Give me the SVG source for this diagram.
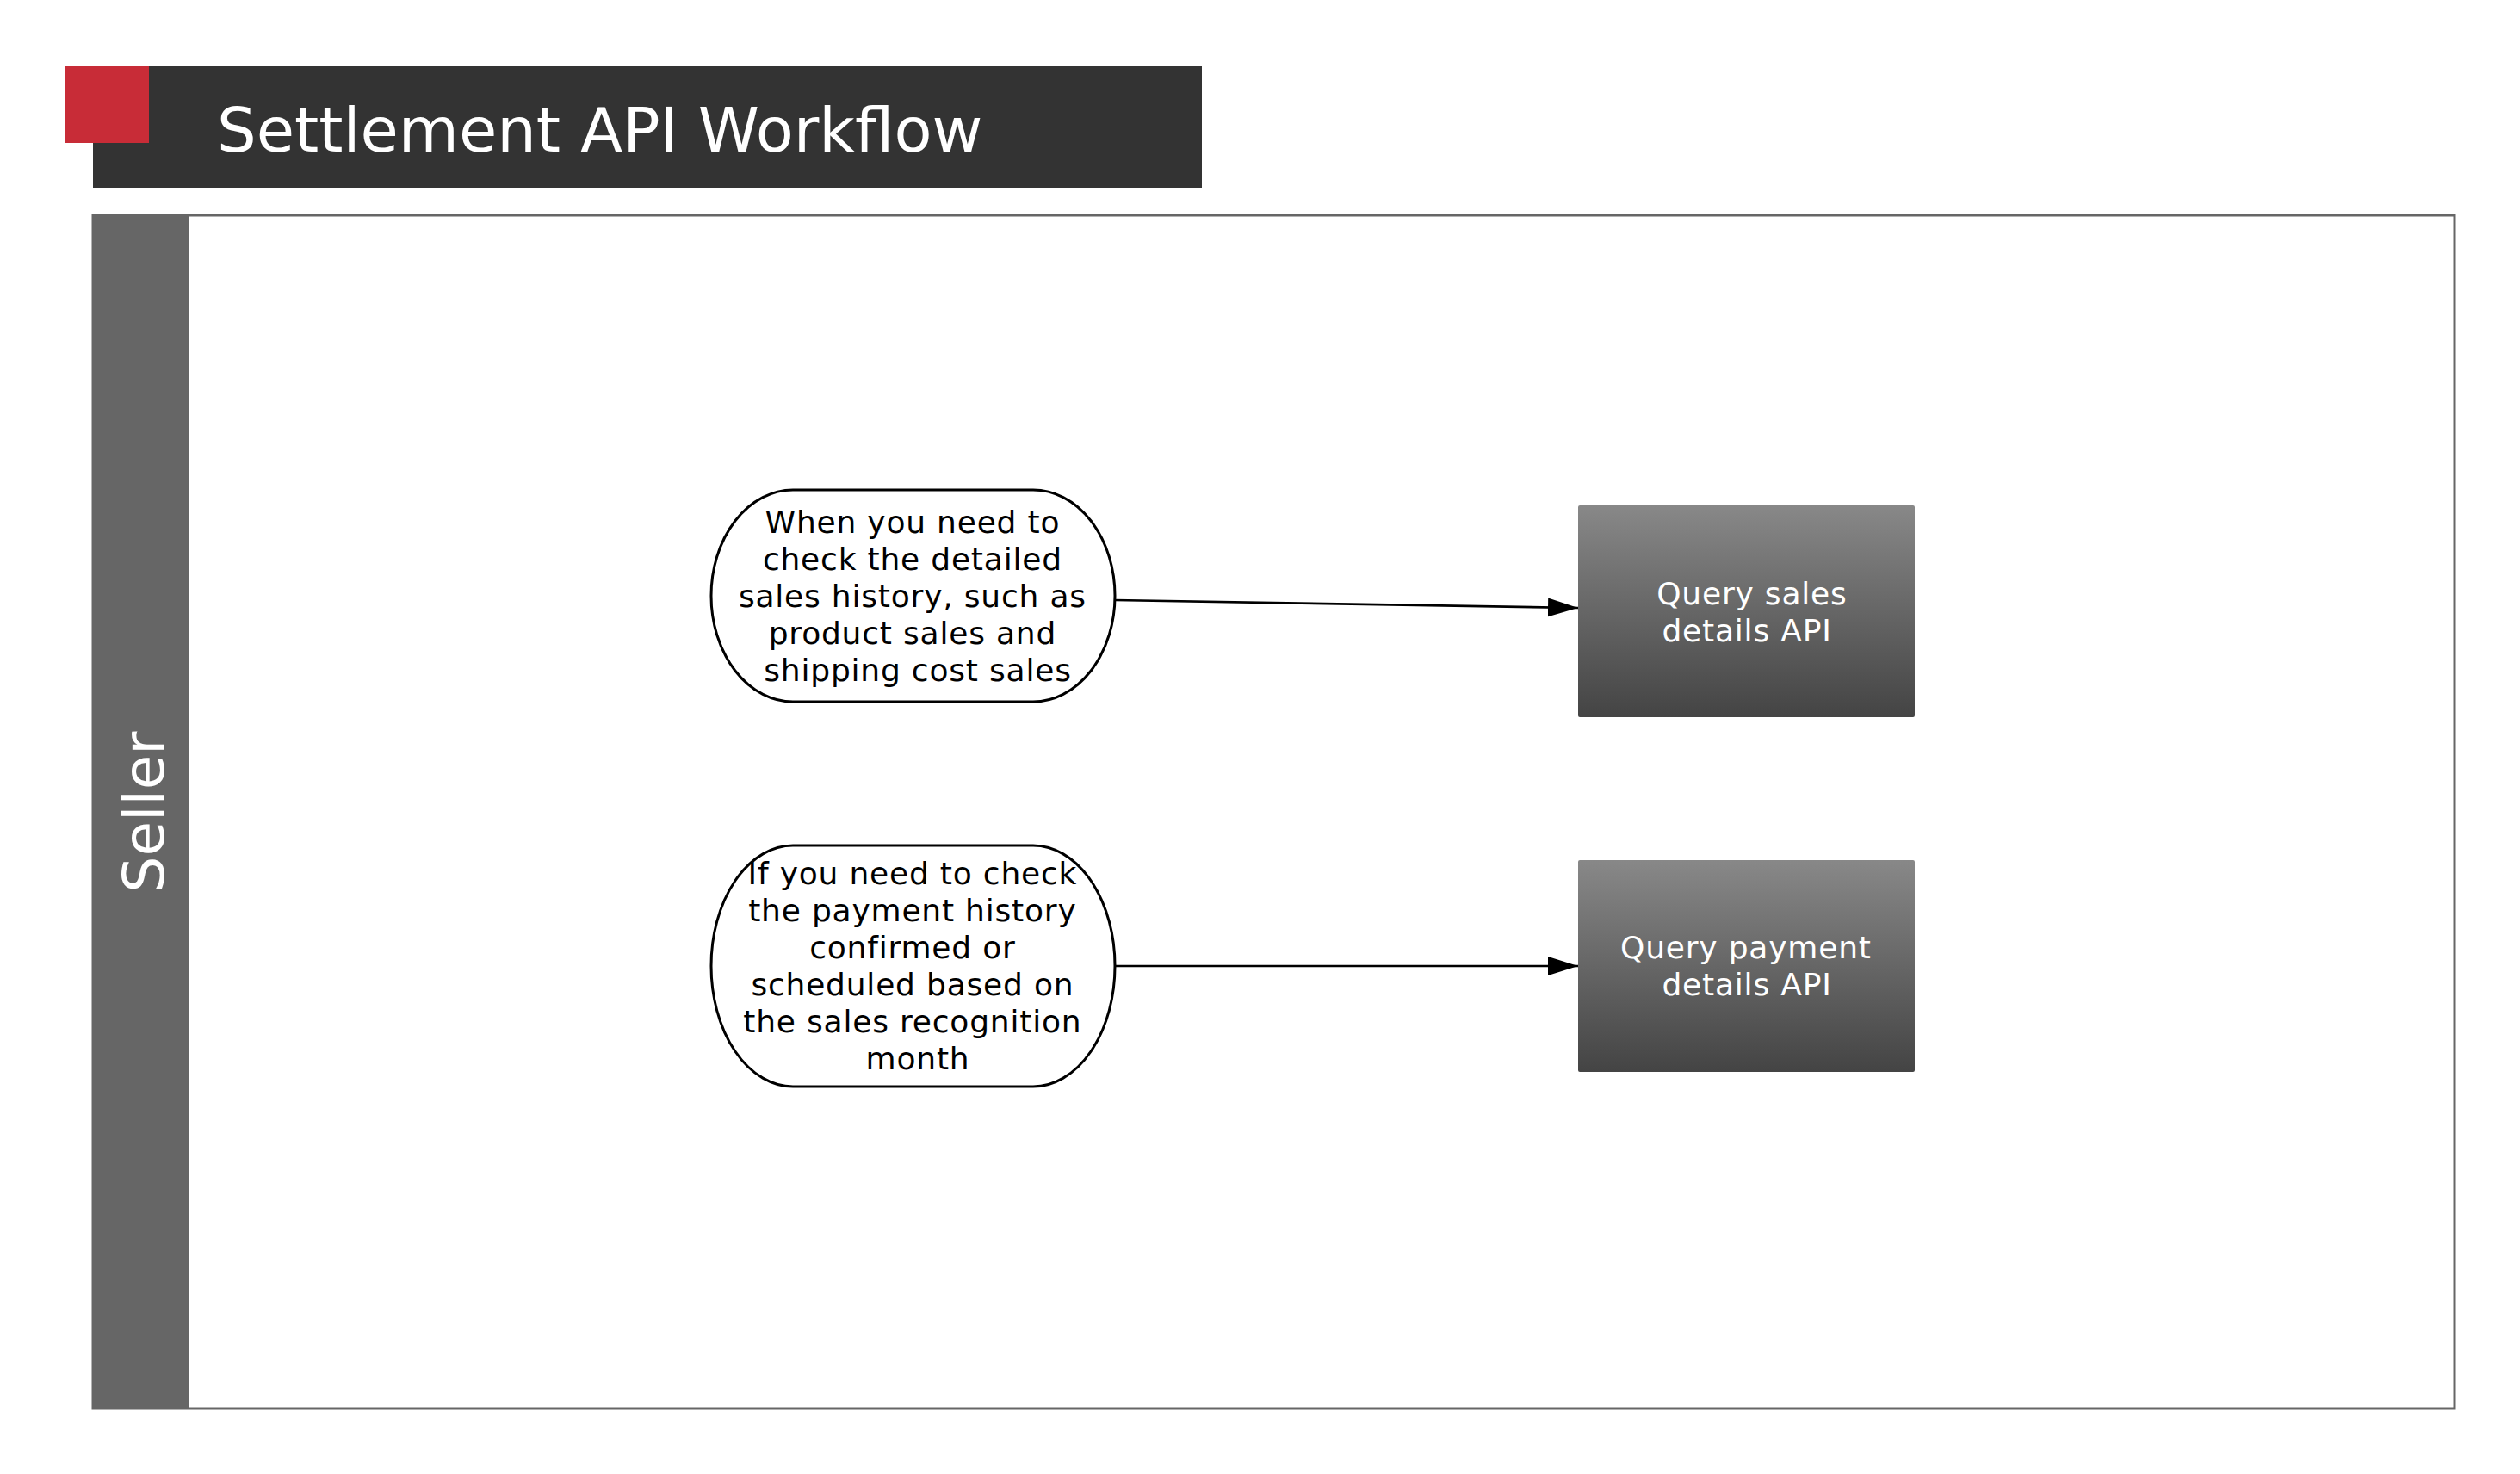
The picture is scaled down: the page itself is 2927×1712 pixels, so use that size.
<svg xmlns="http://www.w3.org/2000/svg" width="2927" height="1712" viewBox="0 0 2927 1712">
<style>
.node-text{font-family:"DejaVu Sans",sans-serif;font-size:36px;letter-spacing:0.8px;text-anchor:middle}
.dark{fill:#000}
.light{fill:#fff}
.start{fill:#fff;stroke:#000;stroke-width:3}
.task{fill:url(#taskGrad)}
.edge{stroke:#000;stroke-width:2.7;fill:none;marker-end:url(#arrow)}
</style>
<defs>
<linearGradient id="taskGrad" x1="0" y1="0" x2="0" y2="1">
<stop offset="0" stop-color="#888888"/>
<stop offset="1" stop-color="#444444"/>
</linearGradient>
<marker id="arrow" markerUnits="userSpaceOnUse" markerWidth="36" markerHeight="24" refX="35" refY="11" orient="auto">
<path d="M0,0 L35,11 L0,22 z" fill="#000"/>
</marker>
</defs>
<rect width="2927" height="1712" fill="#fff"/>
<g id="title">
<rect x="108" y="77" width="1288" height="141" fill="#333333"/>
<rect x="75" y="77" width="98" height="89" fill="#c82c37"/>
<text x="252" y="176" font-family="DejaVu Sans, sans-serif" font-size="72" fill="#fff">Settlement API Workflow</text>
</g>
<g id="pool-seller">
<rect x="108" y="250" width="2743" height="1386" fill="#fff" stroke="#666" stroke-width="3"/>
<rect x="108" y="250" width="112" height="1386" fill="#666"/>
<text transform="translate(190,943) rotate(-90)" text-anchor="middle" font-family="DejaVu Sans, sans-serif" font-size="66" fill="#fff">Seller</text>
</g>
<g id="connectors">
<path class="edge" d="M1295,697 L1833,706"/>
<path class="edge" d="M1295,1122 L1833,1122"/>
</g>
<g id="start-sales">
<rect class="start" x="826" y="569" width="469" height="246" rx="95" ry="123"/>
<text class="node-text dark">
<tspan x="1066" y="619">When you need to</tspan>
<tspan x="1066" y="662">check the detailed</tspan>
<tspan x="1066" y="705">sales history, such as</tspan>
<tspan x="1066" y="748">product sales and</tspan>
<tspan x="1066" y="791">shipping cost sales</tspan>
</text>
</g>
<g id="start-payment">
<rect class="start" x="826" y="982" width="469" height="280" rx="95" ry="140"/>
<text class="node-text dark">
<tspan x="1066" y="1027">If you need to check</tspan>
<tspan x="1066" y="1070">the payment history</tspan>
<tspan x="1066" y="1113">confirmed or</tspan>
<tspan x="1066" y="1156">scheduled based on</tspan>
<tspan x="1066" y="1199">the sales recognition</tspan>
<tspan x="1066" y="1242">month</tspan>
</text>
</g>
<g id="task-sales">
<rect class="task" x="1833" y="587" width="391" height="246" rx="2"/>
<text class="node-text light">
<tspan x="2041" y="702">Query sales</tspan>
<tspan x="2029" y="745">details API</tspan>
</text>
</g>
<g id="task-payment">
<rect class="task" x="1833" y="999" width="391" height="246" rx="2"/>
<text class="node-text light">
<tspan x="2034" y="1113">Query payment</tspan>
<tspan x="2029" y="1156">details API</tspan>
</text>
</g>
</svg>
